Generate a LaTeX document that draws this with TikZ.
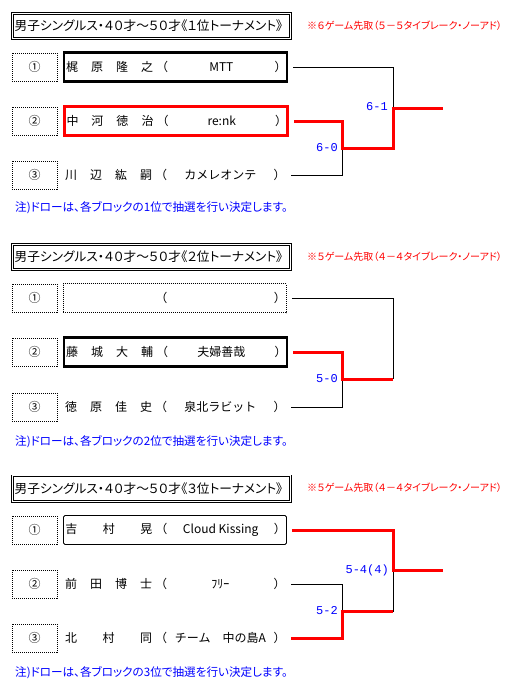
\documentclass[tikz,border=0pt]{standalone}
\usepackage{fontspec}
\setmainfont{Noto Sans CJK JP}
\newfontfamily\propfont[RawFeature=+palt]{Noto Sans CJK JP}
\newfontfamily\scorefont{Liberation Mono}
\definecolor{winred}{RGB}{255,0,0}
\definecolor{noteblue}{RGB}{0,0,255}
\newcommand{\pl}[2]{\hspace{1.5pt}\makebox[87pt][s]{#1}\hspace{3pt}（\makebox[106.5pt]{#2}）}

\begin{document}
\begin{tikzpicture}[x=1pt,y=-1pt,
  ttl/.style={draw,double,double distance=1.2pt,line width=0.7pt,anchor=west,
    minimum height=25.4pt,inner xsep=2pt,inner ysep=0pt,
    font=\propfont\fontsize{12.7pt}{14pt}\selectfont},
  rnote/.style={anchor=west,inner sep=0pt,text=winred,
    font=\propfont\fontsize{10pt}{11pt}\selectfont},
  bnote/.style={anchor=west,inner sep=0pt,text=noteblue,
    font=\propfont\fontsize{11.6pt}{12pt}\selectfont},
  numbox/.style={draw,line width=0.8pt,dash pattern=on 1pt off 1pt,
    minimum width=45pt,minimum height=28pt,inner sep=0pt,
    font=\fontsize{12pt}{14pt}\selectfont},
  pbox/.style={anchor=west,minimum width=223pt,minimum height=29pt,
    inner xsep=0.5pt,inner ysep=0pt,font=\fontsize{12pt}{14pt}\selectfont},
  pthick/.style={draw,line width=2.2pt},
  pred/.style={draw=winred,line width=3pt},
  pdot/.style={draw,line width=0.8pt,dash pattern=on 1pt off 1pt},
  pthin/.style={draw,line width=0.9pt,rounded corners=1.5pt},
  bline/.style={line width=0.9pt},
  win/.style={draw=winred,line width=3pt},
  score/.style={anchor=east,inner sep=0pt,text=noteblue,
    font=\scorefont\fontsize{12pt}{14pt}\selectfont}]
  \fill[white] (0,0) rectangle (520,688);
  \useasboundingbox (0,0) rectangle (520,688);
  % 1st place tournament
  \begin{scope}
    \node[ttl] (t1) at (12.3,26) {\makebox[274pt][l]{男子シングルス・４０才～５０才《１位トーナメント》}};
    \node[rnote] (r1) at (307,26) {※６ゲーム先取（５－５タイブレーク・ノーアド）};
    \node[numbox] (n11) at (34.5,67) {①};
    \node[numbox] (n12) at (34.5,121) {②};
    \node[numbox] (n13) at (34.5,175) {③};
    \node[pbox,pthick] (p11) at (63,67) {\pl{梶\hfill 原\hfill 隆\hfill 之}{MTT}};
    \node[pbox,pred] (p12) at (63,121) {\pl{中\hfill 河\hfill 徳\hfill 治}{re:nk}};
    \node[pbox] (p13) at (63,175) {\pl{川\hfill 辺\hfill 紘\hfill 嗣}{カメレオンテ}};
    \coordinate (m1) at (342,148);
    \coordinate (f1) at (393,108);
    \coordinate (w1) at (443,108);
    \draw[bline] ([xshift=5pt]p11.east) -| (f1);
    \draw[bline] ([xshift=5pt]p13.east) -| (m1);
    \draw[win] ([xshift=5pt]p12.east) -| (m1) -| (f1) -- (w1);
    \node[score] (s11) at ([xshift=-4pt]m1) {6-0};
    \node[score] (s12) at ([xshift=-5pt,yshift=1pt]f1) {6-1};
    \node[bnote] (b1) at (15,208) {注)ドローは、各ブロックの1位で抽選を行い決定します。};
  \end{scope}
  % 2nd place tournament
  \begin{scope}[yshift=-231pt]
    \node[ttl] (t2) at (12.3,26) {\makebox[274pt][l]{男子シングルス・４０才～５０才《２位トーナメント》}};
    \node[rnote] (r2) at (307,26) {※５ゲーム先取（４－４タイブレーク・ノーアド）};
    \node[numbox] (n21) at (34.5,67) {①};
    \node[numbox] (n22) at (34.5,121) {②};
    \node[numbox] (n23) at (34.5,176) {③};
    \node[pbox,pdot] (p21) at (63,67) {\pl{}{}};
    \node[pbox,pthick] (p22) at (63,121) {\pl{藤\hfill 城\hfill 大\hfill 輔}{夫婦善哉}};
    \node[pbox] (p23) at (63,176) {\pl{徳\hfill 原\hfill 佳\hfill 史}{泉北ラビット}};
    \coordinate (m2) at (342,148);
    \coordinate (f2) at (393,148);
    \draw[bline] ([xshift=5pt]p21.east) -| (f2);
    \draw[bline] ([xshift=5pt]p23.east) -| (m2);
    \draw[win] ([xshift=5pt]p22.east) -| (m2) -- (f2);
    \node[score] (s21) at ([xshift=-4pt]m2) {5-0};
    \node[bnote] (b2) at (15,211) {注)ドローは、各ブロックの2位で抽選を行い決定します。};
  \end{scope}
  % 3rd place tournament
  \begin{scope}[yshift=-463pt]
    \node[ttl] (t3) at (12.3,25.5) {\makebox[274pt][l]{男子シングルス・４０才～５０才《３位トーナメント》}};
    \node[rnote] (r3) at (307,25) {※５ゲーム先取（４－４タイブレーク・ノーアド）};
    \node[numbox] (n31) at (34.5,67) {①};
    \node[numbox] (n32) at (34.5,121) {②};
    \node[numbox] (n33) at (34.5,175) {③};
    \node[pbox,pthin] (p31) at (63,67) {\pl{吉\hfill 村\hfill 晃}{Cloud Kissing}};
    \node[pbox] (p32) at (63,121) {\pl{前\hfill 田\hfill 博\hfill 士}{ﾌﾘｰ}};
    \node[pbox] (p33) at (63,175) {\pl{北\hfill 村\hfill 同}{チーム　中の島A}};
    \coordinate (m3) at (342,148);
    \coordinate (f3) at (393,107.5);
    \coordinate (w3) at (443,107.5);
    \draw[bline] ([xshift=5pt]p32.east) -| (m3);
    \draw[bline] (m3) -| (f3);
    \draw[win] ([xshift=5pt]p31.east) -| (f3) -- (w3);
    \draw[win] ([xshift=5pt]p33.east) -| (m3) -- (m3 -| f3);
    \node[score] (s31) at ([xshift=-4pt]m3) {5-2};
    \node[score] (s32) at ([xshift=-4pt]f3) {5-4(4)};
    \node[bnote] (b3) at (15,210) {注)ドローは、各ブロックの3位で抽選を行い決定します。};
  \end{scope}
\end{tikzpicture}
\end{document}
